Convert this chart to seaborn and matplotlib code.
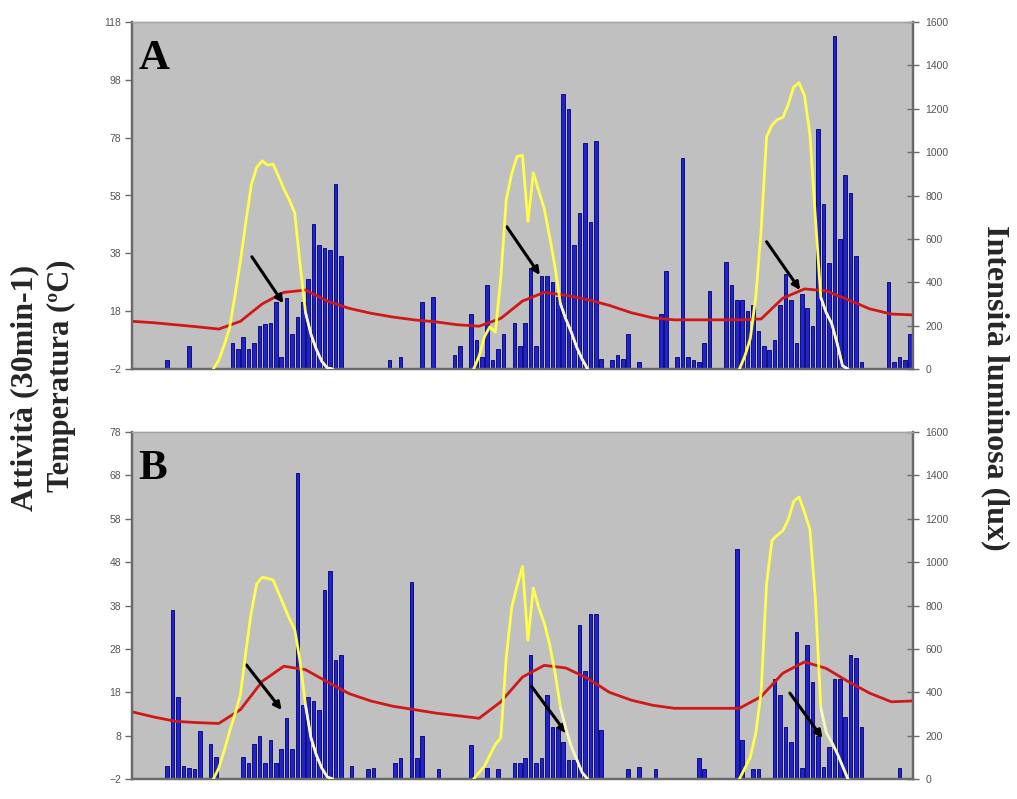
import numpy as np
import pandas as pd
import matplotlib
matplotlib.use("Agg")
import matplotlib.pyplot as plt
import seaborn as sns

# ---------------------------------------------------------------------------
# Data: three days sampled every 30 minutes (144 slots)
# ---------------------------------------------------------------------------
N_SLOTS = 144

# Activity counts per 30 min, panel A (slot index -> count)
ACT_A_SLOTS = [6, 10,
               18, 19, 20, 21, 22, 23, 24, 25, 26, 27, 28, 29, 30, 31, 32, 33, 34, 35, 36, 37, 38,
               47, 49, 53, 55,
               59, 60, 62, 63, 64, 65, 66, 67, 68, 70, 71, 72, 73, 74, 75, 76, 77, 78, 79, 80,
               81, 82, 83, 84, 85, 86, 88, 89, 90, 91, 93,
               97, 98, 100, 101, 102, 103, 104, 105, 106, 109, 110, 111, 112, 113, 114, 115,
               116, 117, 118, 119, 120, 121, 122, 123, 124, 125, 126, 127, 128, 129, 130, 131,
               132, 133, 134, 139, 140, 141, 142, 143]
ACT_A = [1, 6,
         7, 5, 9, 5, 7, 13, 13.5, 14, 21, 2, 22.5, 10, 16, 21, 29, 48, 41, 40, 39, 62, 37,
         1, 2, 21, 23,
         3, 6, 17, 8, 2, 27, 1, 5, 10, 14, 6, 14, 33, 6, 30, 30, 28, 23, 93, 88,
         41, 52, 76, 49, 77, 1.5, 1, 3, 1.5, 10, 0.5,
         17, 32, 2, 71, 2, 1, 0.5, 7, 25, 35, 27, 22, 22, 18, 20, 11,
         6, 4.6, 8, 20, 31, 22, 7, 24, 19, 13, 81, 55, 34.5, 113, 43, 65,
         59, 37, 0.5, 28, 0.5, 2, 1, 10]

# Activity counts per 30 min, panel B
ACT_B_SLOTS = [6, 7, 8, 9, 10, 11, 12, 14, 15,
               20, 21, 22, 23, 24, 25, 26, 27, 28, 29, 30, 31, 32, 33, 34, 35, 36, 37, 38,
               40, 43, 44, 48, 49, 51, 52, 53, 56,
               62, 65, 67, 70, 71, 72, 73, 74, 75, 76, 77, 78, 79, 80, 81, 82, 83, 84, 85, 86,
               91, 93, 96, 104, 105, 111, 112, 114, 115,
               118, 119, 120, 121, 122, 123, 124, 125, 126, 127, 128, 129, 130, 131, 132, 133,
               134, 141]
ACT_B = [1, 37, 17, 1, 0.5, 0.3, 9, 6, 3,
         3, 1.6, 6, 8, 1.6, 7, 1.6, 5, 12, 5, 68.5, 15, 17, 16, 14, 41.6, 46, 25.4, 26.6,
         1, 0.3, 0.5, 1.6, 2.8, 43.5, 2.8, 8, 0.3,
         5.8, 0.5, 0.3, 1.6, 1.6, 2.8, 26.6, 1.6, 2.8, 17.4, 10, 10, 6.6, 2.4, 2.4, 33.5, 23, 36, 36, 9.3,
         0.3, 0.8, 0.3, 2.8, 0.3, 51, 7, 0.3, 0.2,
         21, 17.4, 10, 6.6, 32, 0.5, 29, 20.4, 7.8, 0.8, 5.4, 21, 21, 12.4, 26.6, 25.8,
         10, 0.5]

# Temperature (deg C), one reading every 2 hours (slots 0, 4, ..., 144)
TEMP_SLOTS = list(range(0, 145, 4))
TEMP_A = [14.5, 14.0, 13.3, 12.6, 11.8, 14.5, 20.5, 24.5, 25.3, 21.5, 19.0, 17.3, 16.0,
          15.0, 14.3, 13.3, 12.8, 15.5, 21.5, 24.5, 23.5, 22.0, 20.0, 17.5, 15.7,
          15.0, 15.0, 15.0, 15.0, 15.3, 22.5, 25.7, 25.0, 22.0, 18.8, 17.0, 16.7]
TEMP_B = [13.5, 12.3, 11.3, 11.0, 10.8, 14.0, 20.5, 24.0, 23.2, 20.4, 17.7, 16.0, 14.8,
          14.0, 13.2, 12.6, 12.0, 15.8, 21.5, 24.2, 23.6, 21.2, 18.0, 16.2, 15.0,
          14.3, 14.3, 14.3, 14.3, 17.0, 22.4, 25.0, 23.5, 20.5, 17.8, 15.8, 16.0]

# Light intensity (lux) during daylight, every 30 min from the first slot of each day
LIGHT_START = [15, 63, 112]
LIGHT_A_DAY1 = [0, 40, 110, 190, 340, 500, 680, 850, 930, 960, 940, 945, 890, 830, 780,
                720, 480, 260, 160, 90, 35, 5, 0]
LIGHT_A_DAY2 = [0, 60, 150, 195, 170, 420, 780, 900, 980, 985, 680, 905, 820, 740, 610,
                470, 300, 230, 170, 100, 45, 0]
LIGHT_A_DAY3 = [0, 60, 140, 330, 640, 1070, 1125, 1150, 1160, 1220, 1300, 1320, 1260,
                1080, 700, 330, 260, 210, 120, 15, 0]
LIGHT_B_DAY1 = [0, 50, 130, 220, 300, 390, 590, 770, 900, 930, 925, 918, 860, 800, 740,
                690, 540, 340, 190, 110, 50, 10, 0]
LIGHT_B_DAY2 = [0, 30, 60, 110, 160, 190, 560, 790, 890, 980, 640, 880, 790, 720, 620,
                490, 330, 230, 150, 90, 30, 0]
LIGHT_B_DAY3 = [0, 50, 100, 210, 400, 900, 1100, 1125, 1145, 1195, 1280, 1300, 1230,
                1150, 830, 330, 215, 170, 120, 60, 0]

# Arrows (start slot, start value, end slot, end value) on the activity axis
ARROWS_A = [(22.1, 36.8, 27.9, 20.7), (69.1, 47.2, 75.2, 30.5), (117.0, 42.0, 123.2, 25.3)]
ARROWS_B = [(21.1, 24.3, 27.6, 13.9), (73.7, 19.3, 80.1, 8.5), (121.3, 17.8, 127.3, 7.4)]

# Axis ticks
YTICKS_A = list(range(-2, 119, 20))
YTICKS_B = list(range(-2, 79, 10))
LUX_TICKS = list(range(0, 1601, 200))

# ---------------------------------------------------------------------------
# Style
# ---------------------------------------------------------------------------
sns.set_style("white")
plt.rcParams["font.family"] = ["Liberation Sans", "DejaVu Sans"]

PLOT_BG = "#c0c0c0"
BAR_FACE = "#2222cc"
BAR_EDGE = "#10107a"
TEMP_COLOR = "#d01818"
LIGHT_COLOR = "#ffff4a"
LIGHT_TAIL = "#f3f3e4"
AXIS_GREY = "#6a6a6a"
TICK_TEXT = "#555555"
SERIF = ["Liberation Serif", "DejaVu Serif"]

W, H = 1017, 799
fig = plt.figure(figsize=(W / 100, H / 100), dpi=100)


def draw_panel(ax, act_slots, act_vals, temp, light_days, yticks, letter, arrows):
    floor = yticks[0]
    counts = np.zeros(N_SLOTS)
    counts[act_slots] = act_vals
    df = pd.DataFrame({"slot": np.arange(N_SLOTS) + 0.5, "act": counts})

    ax.set_facecolor(PLOT_BG)
    sns.barplot(data=df, x="slot", y="act", native_scale=True, color=BAR_FACE,
                saturation=1, width=0.66, edgecolor=BAR_EDGE, linewidth=0.7,
                errorbar=None, ax=ax, zorder=2)
    # bars rise from the bottom of the value axis; empty slots show nothing
    for p in ax.patches:
        h = p.get_height()
        if h > 0:
            p.set_y(floor)
            p.set_height(h - floor)
        else:
            p.set_visible(False)

    sns.lineplot(x=TEMP_SLOTS, y=temp, color=TEMP_COLOR, lw=2.0, ax=ax, zorder=4)

    for (x0, y0, x1, y1) in arrows:
        ax.annotate("", xy=(x1, y1), xytext=(x0, y0), zorder=6,
                    arrowprops=dict(arrowstyle="-|>", color="black", lw=2.2,
                                    mutation_scale=11, shrinkA=0, shrinkB=0))

    ax.set_xlim(0, N_SLOTS)
    ax.set_ylim(yticks[0], yticks[-1])
    ax.set_yticks(yticks)
    ax.set_xticks([])
    ax.set_xlabel("")
    ax.set_ylabel("")
    ax.tick_params(axis="y", direction="out", length=5, width=1, color=AXIS_GREY,
                   labelsize=7.5, labelcolor=TICK_TEXT, pad=3, left=True)

    # light intensity on the secondary axis
    ax2 = ax.twinx()
    for start, vals in zip(LIGHT_START, light_days):
        xs = np.arange(start, start + len(vals))
        sns.lineplot(x=xs, y=vals, color=LIGHT_COLOR, lw=2.0, ax=ax2, zorder=5)
        vals = np.asarray(vals, dtype=float)
        peak = int(np.argmax(vals))
        tail = peak + int(np.argmax(vals[peak:] <= 400))
        sns.lineplot(x=xs[tail:], y=vals[tail:], color=LIGHT_TAIL, lw=1.6, ax=ax2, zorder=5)
    ax2.set_ylim(0, 1600)
    ax2.set_yticks(LUX_TICKS)
    ax2.set_xlim(0, N_SLOTS)
    ax2.set_ylabel("")
    ax2.tick_params(axis="y", direction="inout", length=8, width=1, color=AXIS_GREY,
                    labelsize=7.5, labelcolor=TICK_TEXT, pad=5, right=True)

    for a in (ax, ax2):
        for side in ("left", "bottom", "right"):
            a.spines[side].set_visible(True)
            a.spines[side].set_color(AXIS_GREY)
            a.spines[side].set_linewidth(1.6)
        a.spines["top"].set_visible(True)
        a.spines["top"].set_color("#a4a4a4")
        a.spines["top"].set_linewidth(1.0)

    ax.text(0.008, 0.865, letter, transform=ax.transAxes, fontsize=31,
            fontweight="bold", family=SERIF, color="black", va="baseline", ha="left",
            zorder=7)


axA = fig.add_axes([132 / W, 1 - 369 / H, 781 / W, 347 / H])
axB = fig.add_axes([132 / W, 1 - 779 / H, 781 / W, 347 / H])

draw_panel(axA, ACT_A_SLOTS, ACT_A, TEMP_A, [LIGHT_A_DAY1, LIGHT_A_DAY2, LIGHT_A_DAY3],
           YTICKS_A, "A", ARROWS_A)
draw_panel(axB, ACT_B_SLOTS, ACT_B, TEMP_B, [LIGHT_B_DAY1, LIGHT_B_DAY2, LIGHT_B_DAY3],
           YTICKS_B, "B", ARROWS_B)

fig.text(25 / W, 1 - 388 / H, "Attività (30min-1)", rotation=90, ha="center",
         va="center", fontsize=23, fontweight="bold", family=SERIF)
fig.text(61 / W, 1 - 376 / H, "Temperatura (ºC)", rotation=90, ha="center",
         va="center", fontsize=22, fontweight="bold", family=SERIF)
fig.text(995 / W, 1 - 388 / H, "Intensità luminosa (lux)", rotation=-90, ha="center",
         va="center", fontsize=23, fontweight="bold", family=SERIF)

fig.savefig("out.png", dpi=100, facecolor="white")
